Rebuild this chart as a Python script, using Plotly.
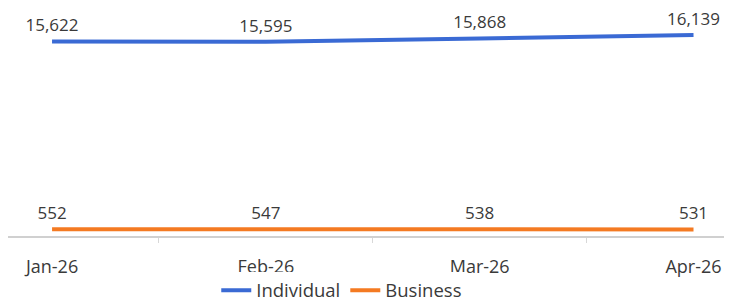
import plotly.graph_objects as go

months = ["Jan-26", "Feb-26", "Mar-26", "Apr-26"]
individual = [15622, 15595, 15868, 16139]
business = [552, 547, 538, 531]

FONT = "Open Sans"
TXT = "#3a3a3a"
series = [("Individual", individual, "#3a6ad4"), ("Business", business, "#f47a22")]

fig = go.Figure()
for name, vals, col in series:
    fig.add_trace(go.Scatter(
        x=months, y=vals, name=name, mode="lines",
        line=dict(color=col, width=4), cliponaxis=False,
    ))
for name, vals, col in series:
    fig.add_trace(go.Scatter(
        x=months, y=vals, name=name, mode="markers+text", showlegend=False,
        marker=dict(size=8, opacity=0, color=col), cliponaxis=False,
        text=[f"{v:,}" for v in vals], textposition="top center",
        textfont=dict(family=FONT, size=17, color=TXT), hoverinfo="skip",
    ))

# the page body adds an 8px offset, so the figure is 8px smaller than the window
fig.update_layout(
    width=724, height=294,
    margin=dict(l=0, r=0, t=2, b=66, autoexpand=False),
    paper_bgcolor="white", plot_bgcolor="white",
    font=dict(family=FONT, size=16, color=TXT),
    showlegend=True,
    legend=dict(orientation="h", x=0.461, xanchor="center", y=-0.242, yanchor="middle",
                font=dict(family=FONT, size=18.5, color=TXT), itemwidth=30),
    xaxis=dict(type="category", range=[-0.206, 3.18], showgrid=False, automargin=False,
               showline=True, linecolor="#d0d0d0", linewidth=1.5,
               ticks="outside", tickson="boundaries", ticklen=5, tickcolor="#d8d8d8",
               ticklabelstandoff=14, tickfont=dict(family=FONT, size=18, color=TXT)),
    yaxis=dict(range=[0, 18150], visible=False, showgrid=False, zeroline=False, automargin=False),
)

fig.write_html("out.html")
